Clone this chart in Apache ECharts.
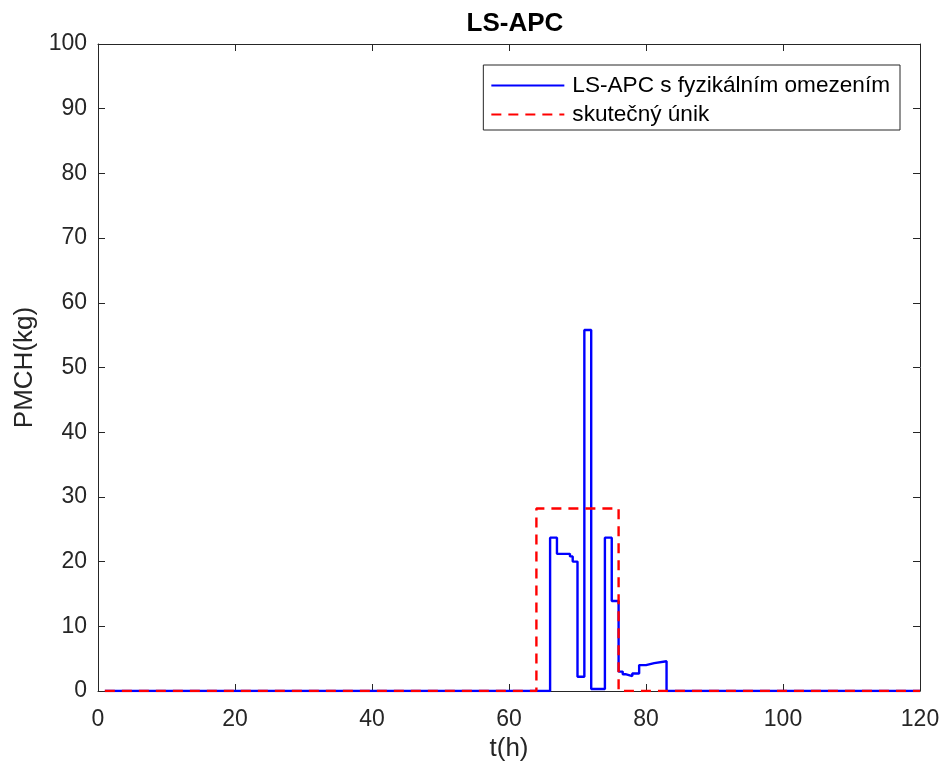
<!DOCTYPE html>
<html>
<head>
<meta charset="utf-8">
<script src="https://cdn.jsdelivr.net/npm/echarts@6/dist/echarts.min.js"></script>
<style>html,body{margin:0;padding:0;background:#fff}#c{width:945px;height:773px}</style>
</head>
<body>
<div id="c"></div>
<script>
// Blue series: change points [t, value], value holds until next t
const blueT = [1, 66, 67, 68.9, 69.3, 70, 71, 72, 74, 75, 76, 76.6, 77, 78, 79, 80, 81.2, 83, 120];
const blueV = [0, 23.7, 21.2, 20.8, 20.0, 2.2, 55.8, 0.3, 23.7, 13.9, 3.0, 2.6, 2.3, 2.7, 4.0, 4.3, 4.6, 0, 0];
// Red (actual leak) change points
const redT = [1, 64, 76, 120];
const redV = [0, 28.2, 0, 0];
const xTicks = [0, 20, 40, 60, 80, 100, 120];
const yTicks = [0, 10, 20, 30, 40, 50, 60, 70, 80, 90, 100];
const seriesNames = ['LS-APC s fyzikálním omezením', 'skutečný únik'];

const blueData = blueT.map((t, i) => [t, blueV[i]]);
const redData = redT.map((t, i) => [t, redV[i]]);

const axisCol = '#262626';
const font = 'Arial, "Liberation Sans", Helvetica, sans-serif';
const frameAxis = {
  axisLine: {show: true, onZero: false, lineStyle: {color: axisCol, width: 1}},
  axisTick: {show: true, inside: true, length: 7, lineStyle: {color: axisCol}},
  splitLine: {show: false}
};
const chart = echarts.init(document.getElementById('c'));
chart.setOption({
  animation: false,
  backgroundColor: '#fff',
  title: {
    text: 'LS-APC', left: 510, top: 6, textAlign: 'center',
    textStyle: {fontFamily: font, fontSize: 26, fontWeight: 'bold', color: '#000'}
  },
  grid: {left: 98, right: 25, top: 44, bottom: 82, show: false},
  legend: {
    right: 45, top: 65, orient: 'vertical',
    itemWidth: 73, itemHeight: 4, itemGap: 6,
    padding: [9, 10, 4, 7],
    borderColor: axisCol, borderWidth: 1, backgroundColor: '#fff',
    itemStyle: {opacity: 0},
    textStyle: {fontFamily: font, fontSize: 22.6, color: '#000', padding: [0, 0, 0, 3]},
    data: seriesNames
  },
  xAxis: [Object.assign({
    type: 'value', min: 0, max: 120, interval: 20,
    name: 't(h)', nameLocation: 'middle', nameGap: 36,
    nameTextStyle: {fontFamily: font, fontSize: 26, color: axisCol},
    axisLabel: {fontFamily: font, fontSize: 23, color: axisCol, margin: 17, formatter: v => xTicks.includes(v) ? String(v) : ''}
  }, frameAxis), Object.assign({
    type: 'value', min: 0, max: 120, interval: 20, position: 'top',
    axisLabel: {show: false}
  }, frameAxis)],
  yAxis: [Object.assign({
    type: 'value', min: 0, max: 100, interval: 10,
    name: 'PMCH(kg)', nameLocation: 'middle', nameGap: 56, nameRotate: 90,
    nameTextStyle: {fontFamily: font, fontSize: 26, color: axisCol},
    axisLabel: {fontFamily: font, fontSize: 23, color: axisCol, margin: 11, formatter: v => yTicks.includes(v) ? String(v) : ''}
  }, frameAxis), Object.assign({
    type: 'value', min: 0, max: 100, interval: 10, position: 'right',
    axisLabel: {show: false}
  }, frameAxis)],
  series: [{
    name: seriesNames[0], type: 'line', step: 'end', data: blueData,
    symbol: 'none', color: '#0000ff',
    lineStyle: {color: '#0000ff', width: 2.4}
  }, {
    name: seriesNames[1], type: 'line', step: 'end', data: redData,
    symbol: 'none', color: '#ff0000',
    lineStyle: {color: '#ff0000', width: 2.4, type: [10, 7]}
  }]
});
</script>
</body>
</html>
